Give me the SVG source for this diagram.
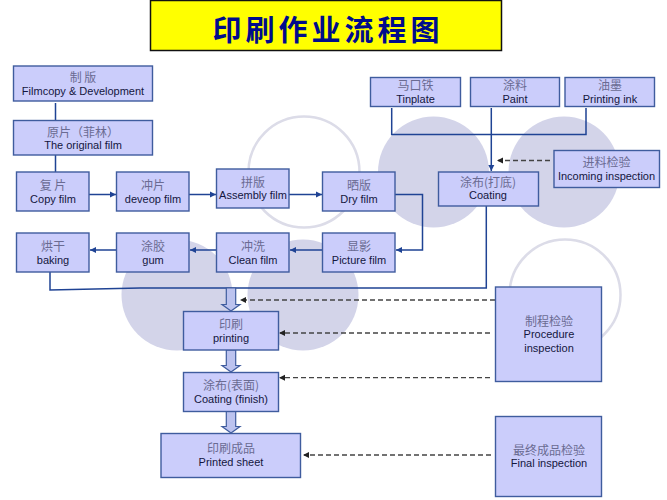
<svg xmlns="http://www.w3.org/2000/svg" width="667" height="500" viewBox="0 0 667 500">
<style>
.b{fill:#cbcdfb;stroke:#3f5c9e;stroke-width:1.4}
.c{font:12px "Noto Sans CJK SC","Noto Sans CJK JP",sans-serif;fill:#6a6b92;text-anchor:middle}
.e{font:11px "Liberation Sans",Arial,sans-serif;fill:#14163e;text-anchor:middle}
.l{fill:none;stroke:#1f4394;stroke-width:1.5}
.a{marker-end:url(#h)}
.d{fill:none;stroke:#444;stroke-width:1.3;stroke-dasharray:5 3;marker-end:url(#k)}
.r{fill:none;stroke:#dcdce8;stroke-width:2.5}
.f{fill:#d3d4e9}
.p{fill:#bcc3ef;stroke:#3f5c9e;stroke-width:1.2}
</style>
<defs>
<marker id="h" markerUnits="userSpaceOnUse" markerWidth="7" markerHeight="7" refX="6" refY="3.5" orient="auto"><path d="M0 0.500L6 3.500L0 6.500Z" fill="#1f4394"/></marker>
<marker id="k" markerUnits="userSpaceOnUse" markerWidth="7" markerHeight="7" refX="5" refY="3.5" orient="auto"><path d="M0 0.500L6 3.500L0 6.500Z" fill="#222"/></marker>
</defs>
<rect width="667" height="500" fill="#fff"/>
<g id="background">
<circle class="r" cx="304" cy="172" r="55.5"/>
<circle class="f" cx="433.5" cy="172" r="55.5"/>
<circle class="f" cx="564" cy="172" r="55.5"/>
<circle class="f" cx="177" cy="295" r="55.5"/>
<circle class="f" cx="303" cy="295" r="55.5"/>
<circle class="r" cx="565" cy="295" r="55.5"/>
</g>
<g id="connectors">
<path class="l" d="M55.5 103V120M55.5 155V172"/>
<path class="l a" d="M89 194.500H116"/>
<path class="l a" d="M189 194.500H216"/>
<path class="l a" d="M289 194.500H322"/>
<path class="l a" d="M395 194.500H422.500V250H396"/>
<path class="l a" d="M322 250H290"/>
<path class="l a" d="M216 250H190"/>
<path class="l a" d="M116 250H90"/>
<path class="l" d="M50 272V290L140 288H486.300V206"/>
<path class="l" d="M391.700 108V134.500H586V108"/>
<path class="l a" d="M491.300 108V171"/>
<path class="d" d="M550 160.500H498"/>
<path class="d" d="M495 300H241"/>
<path class="d" d="M490 333H280"/>
<path class="d" d="M490 377.700H280"/>
<path class="d" d="M491 455H304"/>
<path class="p" d="M226.300 288H235.700V304.500H240L231 311L222 304.500H226.300Z"/>
<path class="p" d="M226.300 350H235.700V365.500H240L231 372L222 365.500H226.300Z"/>
<path class="p" d="M226.300 411H235.700V426.500H240L231 433L222 426.500H226.300Z"/>
</g>
<g id="title"><rect x="150.500" y="0.500" width="351" height="50" fill="#ffff00" stroke="#111" stroke-width="1.5"/>
<text x="328" y="41" text-anchor="middle" style="font:700 29px 'Noto Sans CJK SC','Noto Sans CJK JP',sans-serif;letter-spacing:4px;fill:#000c8c">印刷作业流程图</text></g>
<g id="n1"><rect class="b" x="13.500" y="66" width="139" height="35"/><text class="c" x="83" y="82">制 版</text><text class="e" x="83" y="95">Filmcopy &amp; Development</text></g>
<g id="n2"><rect class="b" x="13.500" y="120.500" width="139" height="34.500"/><text class="c" x="83" y="137">原片（菲林）</text><text class="e" x="83" y="149">The original film</text></g>
<g id="n3"><rect class="b" x="16.500" y="172" width="72.500" height="39"/><text class="c" x="53" y="190">复 片</text><text class="e" x="53" y="203">Copy film</text></g>
<g id="n4"><rect class="b" x="116.500" y="172" width="72.500" height="39"/><text class="c" x="153" y="190">冲片</text><text class="e" x="153" y="203">deveop film</text></g>
<g id="n5"><rect class="b" x="216.500" y="169" width="72.500" height="39"/><text class="c" x="253" y="187">拼版</text><text class="e" x="253" y="199">Assembly film</text></g>
<g id="n6"><rect class="b" x="322.500" y="172" width="72.500" height="39"/><text class="c" x="359" y="190">晒版</text><text class="e" x="359" y="203">Dry film</text></g>
<g id="n7"><rect class="b" x="16.500" y="233" width="72.500" height="39"/><text class="c" x="53" y="251">烘干</text><text class="e" x="53" y="264">baking</text></g>
<g id="n8"><rect class="b" x="116.500" y="233" width="72.500" height="39"/><text class="c" x="153" y="251">涂胶</text><text class="e" x="153" y="264">gum</text></g>
<g id="n9"><rect class="b" x="216.500" y="233" width="72.500" height="39"/><text class="c" x="253" y="251">冲洗</text><text class="e" x="253" y="264">Clean film</text></g>
<g id="n10"><rect class="b" x="322.500" y="233" width="72.500" height="39"/><text class="c" x="359" y="251">显影</text><text class="e" x="359" y="264">Picture film</text></g>
<g id="n11"><rect class="b" x="370.500" y="77.500" width="90" height="29"/><text class="c" x="415.500" y="90">马口铁</text><text class="e" x="415.500" y="102.500">Tinplate</text></g>
<g id="n12"><rect class="b" x="470.500" y="77.500" width="89" height="29"/><text class="c" x="515" y="90">涂料</text><text class="e" x="515" y="102.500">Paint</text></g>
<g id="n13"><rect class="b" x="565" y="77.500" width="89.500" height="29"/><text class="c" x="610" y="90">油墨</text><text class="e" x="610" y="102.500">Printing ink</text></g>
<g id="n14"><rect class="b" x="438.500" y="172" width="100" height="34"/><text class="c" x="488" y="187">涂布(打底)</text><text class="e" x="488" y="199">Coating</text></g>
<g id="n15"><rect class="b" x="554" y="150.500" width="105.500" height="37"/><text class="c" x="606.500" y="167">进料检验</text><text class="e" x="606.500" y="179.500">Incoming inspection</text></g>
<g id="n16"><rect class="b" x="183.500" y="311.500" width="95" height="38.500"/><text class="c" x="231" y="329">印刷</text><text class="e" x="231" y="342">printing</text></g>
<g id="n17"><rect class="b" x="183.500" y="372.500" width="95" height="39"/><text class="c" x="231" y="390">涂布(表面)</text><text class="e" x="231" y="403">Coating (finish)</text></g>
<g id="n18"><rect class="b" x="161" y="433.500" width="139.500" height="44"/><text class="c" x="231" y="453">印刷成品</text><text class="e" x="231" y="466">Printed sheet</text></g>
<g id="n19"><rect class="b" x="495.500" y="287" width="106" height="94.500"/><text class="c" x="549" y="326">制程检验</text><text class="e" x="549" y="338">Procedure</text><text class="e" x="549" y="351.500">inspection</text></g>
<g id="n20"><rect class="b" x="495.500" y="416.500" width="106" height="80"/><text class="c" x="549" y="455">最终成品检验</text><text class="e" x="549" y="467">Final inspection</text></g>
</svg>
